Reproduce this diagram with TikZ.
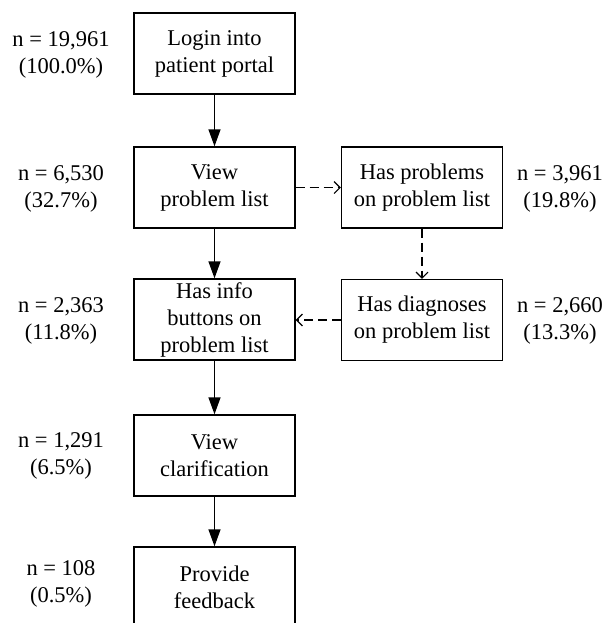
\documentclass[tikz,border=0pt]{standalone}
\usepackage{fontspec}
\setmainfont{Liberation Serif}
\usetikzlibrary{arrows.meta}
\begin{document}
\begin{tikzpicture}[x=1pt,y=-1pt,
  box/.style={draw, line width=1.4pt, minimum width=161pt, minimum height=81pt, inner sep=0pt, align=center, font=\fontsize{22.5}{27}\selectfont},
  lbl/.style={align=center, inner sep=0pt, font=\fontsize{22.5}{27}\selectfont},
  solidarrow/.style={line width=1.4pt, -{Triangle[length=17pt,width=12pt]}},
  dasharrow/.style={line width=1.1pt, dash pattern=on 9pt off 5pt, -{Straight Barb[length=6pt,width=12pt,line width=1.1pt]}}
]
\useasboundingbox (0,0) rectangle (614,623);
\clip (0,0) rectangle (614,623);
\node[box] (b1) at (214.5,53.5) {Login into\\patient portal};
\node[box] (b2) at (214.5,187.5) {View\\problem list};
\node[box] (b3) at (214.5,319.5) {Has info\\buttons on\\problem list};
\node[box] (b4) at (214.5,455.5) {View\\clarification};
\node[box] (b5) at (214.5,587.5) {Provide\\feedback};
\node[box] (r1) at (422,187.5) {Has problems\\on problem list};
\node[box] (r2) at (422,320) {Has diagnoses\\on problem list};

\node[lbl] (l1) at (61,55) {n = 19,961\\(100.0\%)};
\node[lbl] (l2) at (61,189) {n = 6,530\\(32.7\%)};
\node[lbl] (l3) at (61,321) {n = 2,363\\(11.8\%)};
\node[lbl] (l4) at (61,456) {n = 1,291\\(6.5\%)};
\node[lbl] (l5) at (61,584) {n = 108\\(0.5\%)};
\node[lbl] (q1) at (560,189) {n = 3,961\\(19.8\%)};
\node[lbl] (q2) at (560,321) {n = 2,660\\(13.3\%)};

\draw[solidarrow] (b1) -- (b2);
\draw[solidarrow] (b2) -- (b3);
\draw[solidarrow] (b3) -- (b4);
\draw[solidarrow] (b4) -- (b5);
\draw[dasharrow] (b2.east) -- (r1.west);
\draw[dasharrow] (r1) -- (r2);
\draw[dasharrow] (r2.west) -- (r2.west -| b3.east);
\end{tikzpicture}
\end{document}
